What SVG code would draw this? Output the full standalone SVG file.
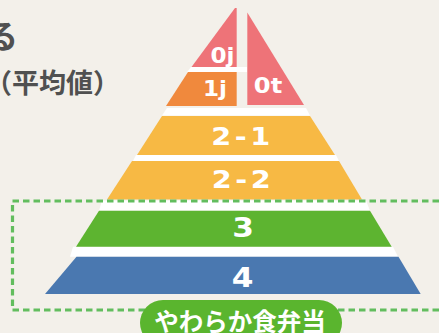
<svg xmlns="http://www.w3.org/2000/svg" width="439" height="333" viewBox="0 0 439 333">
<style>
.title{font-family:"Noto Sans CJK JP","Noto Sans",sans-serif;font-weight:bold;fill:#505050}
.lbl{font-family:"DejaVu Sans","Liberation Sans",sans-serif;font-weight:bold;fill:#ffffff;text-anchor:middle}
.gap{fill:#ffffff}
.pill{font-family:"Noto Sans CJK JP",sans-serif;font-weight:bold;fill:#ffffff;text-anchor:middle}
</style>
<rect x="0" y="0" width="439" height="333" fill="#F3F0EA"/>
<text class="title" x="-14" y="48" font-size="32">る</text>
<text class="title" x="-15" y="93" font-size="27">（平均値）</text>

<g id="separators">
<polygon class="gap" points="191,67 247,67 247,72 187,72"/>
<polygon class="gap" points="167,108 306,108 310,115.5 162,115.5"/>
<polygon class="gap" points="136,155 336,155 339,161 133,161"/>
<polygon class="gap" points="102,200.5 366,200.5 370,210.7 99,210.7"/>
<polygon class="gap" points="73,246.7 393,246.7 398,256.7 70,256.7"/>
</g>

<g id="tier-0j">
<polygon points="235,8 236.7,8 236.7,67 191.5,67" fill="#EE7378"/>
<text class="lbl" font-size="21" transform="translate(222.5,63) scale(1.1,1)">0j</text>
</g>
<g id="tier-0t">
<polygon points="247.3,12.5 304,105 247.3,105" fill="#EE7378"/>
<text class="lbl" font-size="21" transform="translate(268,93) scale(1.15,1)">0t</text>
</g>
<g id="tier-1j">
<polygon points="188,72 236.7,72 236.7,106 166,106" fill="#F0893D"/>
<text class="lbl" font-size="21" transform="translate(215,96) scale(1.1,1)">1j</text>
</g>
<g id="tier-2-1">
<polygon points="162,116 310,116 335,155 137,155" fill="#F7B944"/>
<text class="lbl" font-size="25" letter-spacing="3" transform="translate(242.5,145) scale(1.15,1)">2-1</text>
</g>
<g id="tier-2-2">
<polygon points="132,161 339,161 362,199.5 107,199.5" fill="#F7B944"/>
<text class="lbl" font-size="25" letter-spacing="3" transform="translate(243,188) scale(1.15,1)">2-2</text>
</g>
<g id="tier-3">
<polygon points="99,210.7 370,210.7 391.7,246.7 76,246.7" fill="#5DB430"/>
<text class="lbl" font-size="26" transform="translate(243,237) scale(1.2,1)">3</text>
</g>
<g id="tier-4">
<polygon points="76.5,256.7 398.5,256.7 420.7,294 45,294" fill="#4A78B0"/>
<text class="lbl" font-size="26" transform="translate(242.5,287) scale(1.2,1)">4</text>
</g>

<g id="connectors">
<rect x="12.5" y="201" width="500" height="109" fill="none" stroke="#62BD5E" stroke-width="3.2" stroke-dasharray="6.5 4"/>
</g>

<g id="label-yawaraka">
<rect x="140" y="300" width="202" height="46" rx="23" fill="#5AB52E"/>
<text class="pill" x="240" y="331" font-size="24.5">やわらか食弁当</text>
</g>
</svg>
